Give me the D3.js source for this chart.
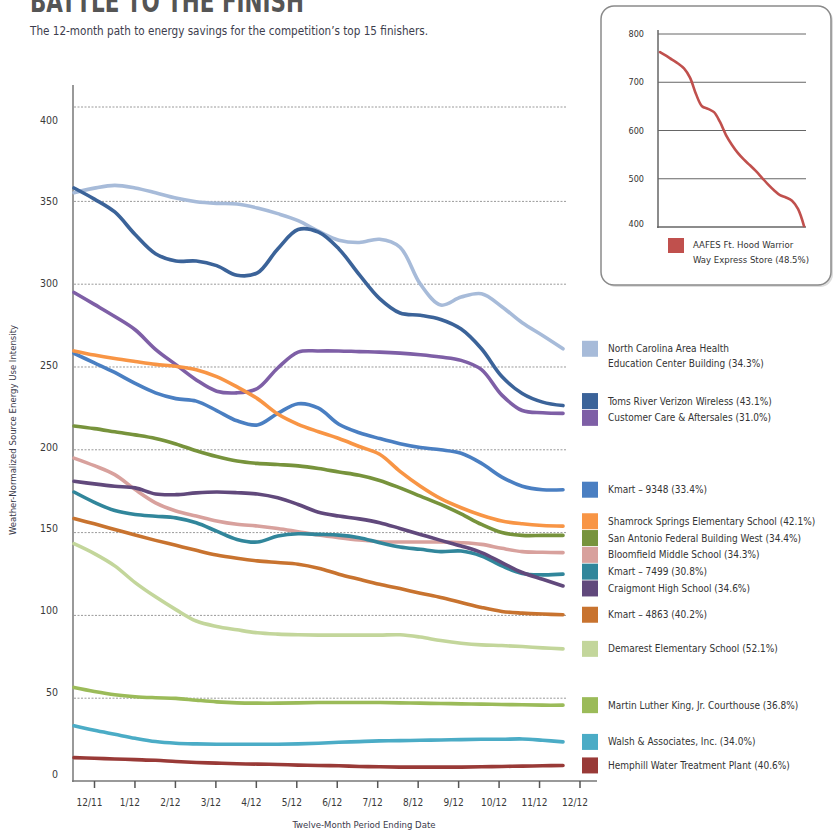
<!DOCTYPE html>
<html>
<head>
<meta charset="utf-8">
<script src="https://cdn.jsdelivr.net/npm/d3@7/dist/d3.min.js"></script>
<style>
  html, body { margin: 0; padding: 0; background: #fff; }
  svg { display: block; }
  text { font-family: 'Liberation Sans Narrow', 'DejaVu Sans Condensed', 'Roboto Condensed', sans-serif; fill: #333; }
</style>
</head>
<body>
<svg id="chart" width="836" height="832"></svg>
<script>
// ---------- DATA ----------
const months = ["12/11","1/12","2/12","3/12","4/12","5/12","6/12","7/12","8/12","9/12","10/12","11/12","12/12"];
const yTicks = [0, 50, 100, 150, 200, 250, 300, 350, 400];
const insetTicks = [400, 500, 600, 700, 800];

// values sampled every half month from 12/11 to 12/12 (25 samples)
const northCarolina = [355.2,358,359.7,358.1,355.2,352,349.8,348.8,348.4,346,342.6,338.4,332,326.6,325.2,327.1,322.3,300,287.4,292.2,294.2,286.4,276.7,269,261];
const tomsRiver     = [358.1,351.4,343.6,330,318.4,314,314,311.2,305.4,306.8,321.3,333,331.4,321.3,305.8,291.3,282.6,281.2,278.7,272.9,261,244.2,234,228.8,226.7];
const customerCare  = [295,287.8,280.5,272.5,260.7,251.4,242.2,235.4,234.4,237,249.4,259,259.7,259.7,259.3,259,258.4,257.4,256,254,248.4,233,223.7,222.4,222];
const kmart9348     = [258.2,252.5,246.7,240.1,234.4,230.9,229.4,223.7,217.5,215,222,227.8,225.1,215.4,210.3,206.8,203.7,201.4,200,197.9,191.8,183.5,178,175.9,175.9];
const shamrock      = [259.7,257.2,255.1,253.3,251.6,250.4,248.4,244.2,238,230.9,221.6,215.4,210.9,206.8,202,197.3,187,178,170.5,165,160.5,157,155.3,154.3,153.9];
const sanAntonio    = [214.4,212.8,210.9,209,206.8,203.5,199.4,195.9,193.2,191.8,191.1,190.3,188.7,186.6,184.6,181.5,177,172,167,161.3,154.9,150,148.3,148.3,148.3];
const bloomfield    = [195,190.4,185,176,168,163,160,157,155,154,152.5,150.5,148.5,146.9,145.5,144.5,144.3,144.3,144.3,143.9,142.9,140.5,138.5,138.1,137.9];
const kmart7499     = [174.5,168.3,163.3,160.9,159.9,158.9,155.9,150.9,145.9,144.3,147.9,149.3,148.9,148.5,146.9,143.9,141.3,139.9,138.5,138.9,135.9,129.9,125.3,124.5,124.9];
const craigmont     = [181,179.4,178,177,173.3,172.9,174,174.5,174.1,173.3,171,167,162.3,160,158.3,156,152.5,148.9,145.3,141.9,137.9,131.9,125.9,121.8,117.8];
const kmart4863     = [158.5,155.3,151.9,148.5,145.3,142.3,139.3,136.5,134.5,132.9,131.9,130.9,128.5,124.9,121.8,118.8,116.2,113.4,110.8,107.8,104.8,102.4,101.4,100.8,100.4];
const demarest      = [143.3,137.3,129.9,119.8,111.2,103.5,96.6,93.3,91.3,89.5,88.7,88.3,88.1,88.1,88.1,88.1,88.3,86.9,84.8,83.2,82.2,81.8,81.2,80.4,79.8];
const mlk           = [56.5,54.1,52.1,50.9,50.3,49.9,48.8,47.8,47.2,47,47,47.2,47.4,47.4,47.4,47.4,47.2,47,46.8,46.6,46.4,46.2,46,45.8,45.8];
const walsh         = [33.3,30.6,28.2,25.8,23.8,22.8,22.4,22.2,22.2,22.2,22.2,22.4,22.8,23.4,23.8,24.2,24.4,24.6,24.8,25,25.2,25.2,25.4,24.6,23.6];
const hemphill      = [14.1,13.7,13.3,12.9,12.5,11.8,11.2,10.8,10.4,10.2,10,9.6,9.4,9.2,8.8,8.6,8.4,8.4,8.4,8.4,8.6,8.8,9,9.2,9.4];
const aafes         = [762.6,755.1,746.9,738.8,728.6,709.5,675.5,650.3,644.9,638.1,617.7,590.5,570,553,539.5,527.9,515.6,502,488.4,476.2,466,461.2,454.4,437.4,402];

const seriesNames = [
  ["North Carolina Area Health", "Education Center Building (34.3%)"],
  ["Toms River Verizon Wireless (43.1%)"],
  ["Customer Care & Aftersales (31.0%)"],
  ["Kmart – 9348 (33.4%)"],
  ["Shamrock Springs Elementary School (42.1%)"],
  ["San Antonio Federal Building West (34.4%)"],
  ["Bloomfield Middle School (34.3%)"],
  ["Kmart – 7499 (30.8%)"],
  ["Craigmont High School (34.6%)"],
  ["Kmart – 4863 (40.2%)"],
  ["Demarest Elementary School (52.1%)"],
  ["Martin Luther King, Jr. Courthouse (36.8%)"],
  ["Walsh & Associates, Inc. (34.0%)"],
  ["Hemphill Water Treatment Plant (40.6%)"]
];
const seriesValues = [northCarolina, tomsRiver, customerCare, kmart9348, shamrock, sanAntonio, bloomfield, kmart7499, craigmont, kmart4863, demarest, mlk, walsh, hemphill];
const seriesColors = ["#a7bbd9","#3b6399","#7e5fa6","#4a7fc2","#f89545","#77933c","#d8a19d","#31869b","#61497c","#c8732f","#c3d69b","#9bbb59","#4bacc6","#993a37"];
const insetName = ["AAFES Ft. Hood Warrior", "Way Express Store (48.5%)"];
const insetColor = "#c0504d";

// ---------- LAYOUT ----------
const svg = d3.select("#chart");
const W = 836, H = 832;

// Title & subtitle
svg.append("text").attr("x", 30).attr("y", 12)
  .attr("font-size", 31).attr("font-weight", "bold").style("fill", "#555")
  .attr("textLength", 274).attr("lengthAdjust", "spacingAndGlyphs")
  .text("BATTLE TO THE FINISH");
svg.append("text").attr("x", 30).attr("y", 35)
  .attr("font-size", 12.5).style("fill", "#3d3d4d")
  .attr("textLength", 398).attr("lengthAdjust", "spacingAndGlyphs")
  .text("The 12-month path to energy savings for the competition’s top 15 finishers.");

// Scales
const x = d3.scaleLinear().domain([0, 12]).range([74, 563]);
const xAxisScale = d3.scalePoint().domain(months).range([94.5, 580]);
const y = d3.scaleLinear().domain([0, 407]).range([781, 107]);
const yLabel = d3.scaleLinear().domain([0, 400]).range([774, 120]);

// Gridlines
const g = svg.append("g");
g.selectAll("line.grid").data(yTicks.filter(v => v > 0 && v < 400).concat([407]))
  .join("line").attr("class", "grid")
  .attr("x1", 74).attr("x2", 567)
  .attr("y1", d => y(d)).attr("y2", d => y(d))
  .attr("stroke", "#9a9a9a").attr("stroke-width", 1).attr("stroke-dasharray", "2,1.5");

// Y labels
g.selectAll("text.ylab").data(yTicks).join("text").attr("class", "ylab")
  .attr("x", 58).attr("y", d => yLabel(d)).attr("dy", "0.35em")
  .attr("text-anchor", "end").attr("font-size", 10.5).style("fill", "#3a3a3a")
  .text(d => d);

// Axes lines
g.append("line").attr("x1", 73).attr("x2", 73).attr("y1", 85).attr("y2", 782)
  .attr("stroke", "#777").attr("stroke-width", 1.5);
g.append("line").attr("x1", 72).attr("x2", 597).attr("y1", 781).attr("y2", 781)
  .attr("stroke", "#777").attr("stroke-width", 1.5);

// X ticks & labels
g.selectAll("line.xt").data(months).join("line").attr("class", "xt")
  .attr("x1", d => xAxisScale(d)).attr("x2", d => xAxisScale(d))
  .attr("y1", 781).attr("y2", 788).attr("stroke", "#555").attr("stroke-width", 1.5);
g.selectAll("text.xl").data(months).join("text").attr("class", "xl")
  .attr("x", d => xAxisScale(d) - 5).attr("y", 806)
  .attr("text-anchor", "middle").attr("font-size", 10).style("fill", "#3a3a3a")
  .text(d => d);

// Axis titles
svg.append("text").attr("x", 364).attr("y", 828).attr("text-anchor", "middle")
  .attr("font-size", 9.5).style("fill", "#3a3a4a").text("Twelve-Month Period Ending Date");
svg.append("text").attr("transform", "translate(16,430) rotate(-90)").attr("text-anchor", "middle")
  .attr("font-size", 9.5).style("fill", "#3a3a4a").text("Weather-Normalized Source Energy Use Intensity");

// Lines
const line = d3.line().x((d, i) => x(i / 2)).y(d => y(d)).curve(d3.curveCatmullRom.alpha(0.5));
const order = d3.range(seriesValues.length);
g.selectAll("path.series").data(order).join("path").attr("class", "series")
  .attr("d", i => line(seriesValues[i]))
  .attr("fill", "none").attr("stroke", i => seriesColors[i])
  .attr("stroke-width", 3.6).attr("stroke-linecap", "round").attr("stroke-linejoin", "round");

// Legend with collision avoidance anchored at series end values
const gap = 16.8;
const nodes = order.map(i => ({i, target: y(seriesValues[i][seriesValues[i].length - 1]), h: seriesNames[i].length > 1 ? 32 : gap}))
  .sort((a, b) => a.target - b.target);
let clusters = nodes.map(n => ({nodes: [n], top: n.target, h: n.h}));
let merged = true;
while (merged) {
  merged = false;
  for (let k = 1; k < clusters.length; k++) {
    const a = clusters[k - 1], b = clusters[k];
    if (a.top + a.h > b.top) {
      const ns = a.nodes.concat(b.nodes);
      let off = 0, sum = 0;
      ns.forEach(n => { sum += n.target - off; off += n.h; });
      clusters.splice(k - 1, 2, {nodes: ns, top: sum / ns.length, h: off});
      merged = true; break;
    }
  }
}
clusters.forEach(c => { let off = 0; c.nodes.forEach(n => { n.pos = c.top + off; off += n.h; }); });

const leg = svg.append("g");
nodes.forEach(n => {
  leg.append("rect").attr("x", 582).attr("y", n.pos - 8).attr("width", 16).attr("height", 16)
    .attr("fill", seriesColors[n.i]);
  seriesNames[n.i].forEach((t, j) => {
    leg.append("text").attr("x", 608).attr("y", n.pos + j * 15).attr("dy", "0.35em")
      .attr("font-size", 10).style("fill", "#333")
      .text(t);
  });
});

// ---------- INSET ----------
const ins = svg.append("g");
ins.append("rect").attr("x", 603).attr("y", 8).attr("width", 230).attr("height", 279).attr("rx", 13)
  .attr("fill", "#ddd");
ins.append("rect").attr("x", 601).attr("y", 6).attr("width", 230).attr("height", 279).attr("rx", 13)
  .attr("fill", "#fff").attr("stroke", "#8a8a8a").attr("stroke-width", 1.5);

const ix = d3.scaleLinear().domain([0, 12]).range([660, 804]);
const iy = d3.scaleLinear().domain([400, 800]).range([227, 34]);
ins.selectAll("line.ig").data(insetTicks.filter(v => v > 400)).join("line").attr("class", "ig")
  .attr("x1", 658).attr("x2", 806).attr("y1", d => iy(d)).attr("y2", d => iy(d))
  .attr("stroke", "#666").attr("stroke-width", 1);
ins.append("line").attr("x1", 658).attr("x2", 658).attr("y1", 30).attr("y2", 228)
  .attr("stroke", "#666").attr("stroke-width", 1.5);
ins.append("line").attr("x1", 657).attr("x2", 806).attr("y1", 227).attr("y2", 227)
  .attr("stroke", "#666").attr("stroke-width", 1.5);
ins.selectAll("text.il").data(insetTicks).join("text").attr("class", "il")
  .attr("x", 644).attr("y", d => iy(d) - (d === 400 ? 3 : 0)).attr("dy", "0.35em").attr("text-anchor", "end")
  .attr("font-size", 9).style("fill", "#333").text(d => d);
const iline = d3.line().x((d, i) => ix(i / 2)).y(d => iy(d)).curve(d3.curveCatmullRom.alpha(0.5));
ins.append("path").attr("d", iline(aafes)).attr("fill", "none").attr("stroke", insetColor)
  .attr("stroke-width", 2.6).attr("stroke-linecap", "round");
ins.append("rect").attr("x", 668).attr("y", 238).attr("width", 16).attr("height", 15).attr("fill", insetColor);
insetName.forEach((t, j) => {
  ins.append("text").attr("x", 693).attr("y", 245 + j * 15).attr("dy", "0.35em")
    .attr("font-size", 9.5).style("fill", "#333").text(t);
});
</script>
</body>
</html>
